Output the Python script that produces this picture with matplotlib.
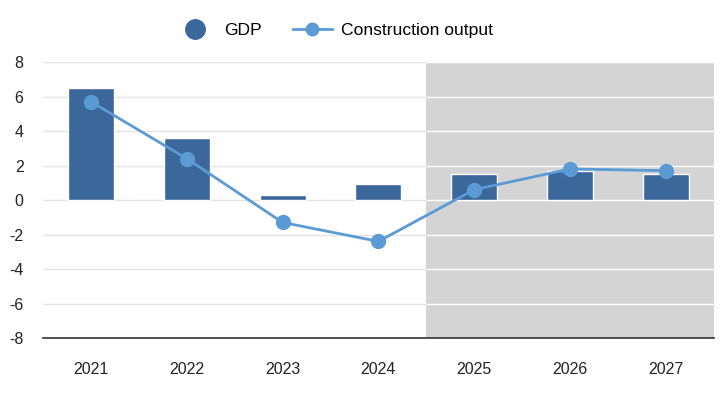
import numpy as np
import matplotlib
matplotlib.use("Agg")
import matplotlib.pyplot as plt
from matplotlib.lines import Line2D

plt.rcParams["font.family"] = ["Liberation Sans", "DejaVu Sans"]
plt.rcParams["axes.unicode_minus"] = False

years = ["2021", "2022", "2023", "2024", "2025", "2026", "2027"]
gdp = [6.5, 3.6, 0.3, 0.9, 1.5, 1.7, 1.5]
construction = [5.7, 2.4, -1.3, -2.4, 0.6, 1.8, 1.7]
yticks = [-8, -6, -4, -2, 0, 2, 4, 6, 8]

BAR = "#3b679b"
LINE = "#5b9bd5"
SHADE = "#d4d4d4"
GRID = "#e4e4e4"

fig = plt.figure(figsize=(7.24, 3.95), dpi=100)
ax = fig.add_axes([0.0594, 0.1443, 0.9266, 0.6987])

x = np.arange(len(years))
ax.set_xlim(-0.5, len(years) - 0.5)
ax.set_ylim(-8, 8)

# forecast shading + grid lines
ax.axvspan(3.5, len(years) - 0.5, color=SHADE, lw=0, zorder=0)
for y in yticks[1:]:
    ax.hlines(y, -0.5, 3.5, color=GRID, lw=1, zorder=1)
    ax.hlines(y, 3.5, len(years) - 0.5, color="white", lw=1, zorder=1)

ax.bar(x, gdp, width=0.48, color=BAR, edgecolor="white", linewidth=1, zorder=2)
ax.plot(x, construction, color=LINE, lw=2, marker="o", ms=10, zorder=3)

for s in ["top", "right", "left"]:
    ax.spines[s].set_visible(False)
ax.spines["bottom"].set_color("#333333")
ax.spines["bottom"].set_linewidth(1.2)

ax.set_xticks(x)
ax.set_xticklabels(years)
ax.set_yticks(yticks)
ax.tick_params(axis="x", length=0, pad=17, labelsize=11.5, colors="#222222")
ax.tick_params(axis="y", length=0, pad=14, labelsize=11.5, colors="#222222")

handles = [
    Line2D([0], [0], marker="o", color="none", markerfacecolor=BAR,
           markeredgecolor=BAR, ms=14, label="GDP"),
    Line2D([0], [0], color=LINE, lw=2, marker="o", ms=9, label="Construction output"),
]
fig.legend(handles=handles, loc="center", bbox_to_anchor=(0.462, 0.922), ncol=2,
           frameon=False, fontsize=12.6, handlelength=2.2, columnspacing=1.8,
           handletextpad=0.55)

plt.savefig("out.png", dpi=100)
plt.close()
